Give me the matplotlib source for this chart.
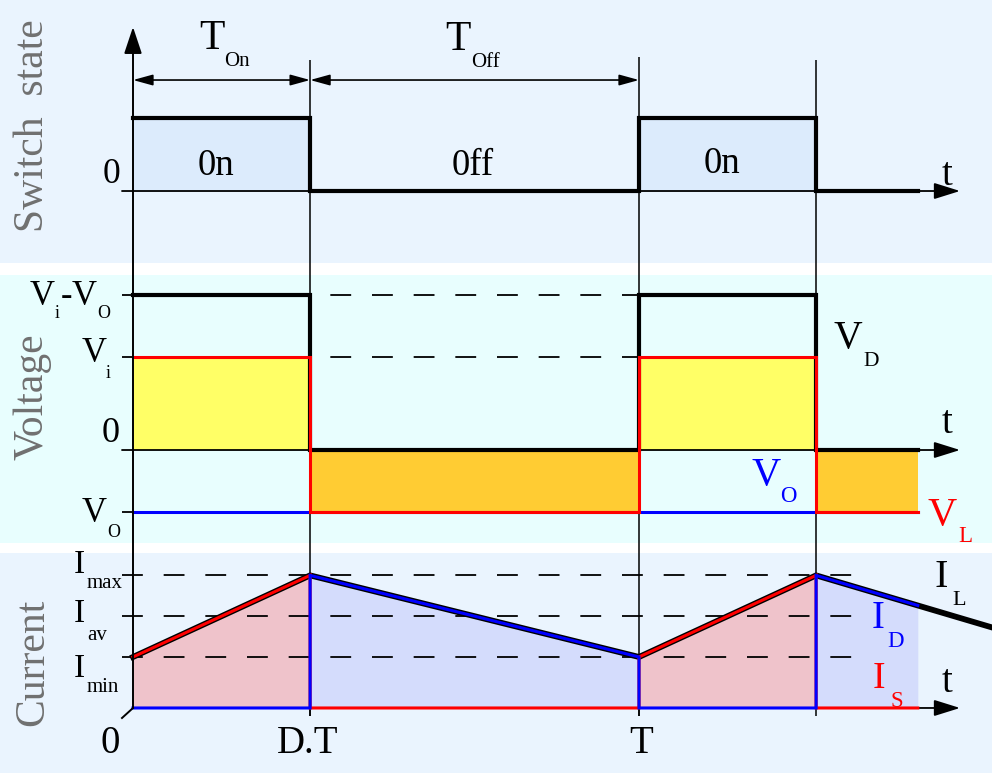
import matplotlib
matplotlib.use('Agg')
import matplotlib.pyplot as plt

plt.rcParams['font.family'] = ['Liberation Serif', 'DejaVu Serif']
plt.rcParams['lines.scale_dashes'] = False

W, H = 992, 773

# time, as a fraction of the period T
D = 0.35
t_end = 1.551    # where the shaded waveforms stop
t_tail = 1.694   # where the I_L line stops
on_spans = [(0, D), (1, 1 + D)]
off_spans = [(D, 1), (1 + D, t_end)]

# switch state
t_sw = [0, D, D, 1, 1, 1 + D, 1 + D, t_end]
sw = [1, 1, 0, 0, 1, 1, 0, 0]

# voltages
Vi = 1.5
Vo = -1.0
ViVo = Vi - Vo
v_d = [ViVo, ViVo, 0, 0, ViVo, ViVo, 0, 0]
v_l = [Vi, Vi, Vo, Vo, Vi, Vi, Vo, Vo]

# currents
Imin, Iav, Imax = 1.0, 1.8, 2.6
t_il = [0, D, 1, 1 + D, t_end, t_tail]
i_l = [1.0, 2.6, 1.0, 2.6, 2.01, 1.59]
i_s = [1.0, 2.6, 0, 0, 1.0, 2.6, 0, 0]
i_d = [0, 0, 2.6, 1.0, 0, 0, 2.6, 2.01]

x_lim = (-133 / 506, (W - 133) / 506)
t_tick = -11 / 506
t_arrow = (960 - 133) / 506

fig = plt.figure(figsize=(W / 100, H / 100), dpi=100, facecolor='white')

# background layer: panel colours and vertical guides (y in pixels)
bg = fig.add_axes([0, 0, 1, 1])
bg.set_xlim(*x_lim)
bg.set_ylim(H, 0)
bg.axis('off')
bg.axhspan(0, 263, color='#eaf4fe', lw=0)
bg.axhspan(275, 543, color='#e8fefe', lw=0)
bg.axhspan(553, H, color='#eaf4fe', lw=0)
bg.vlines([D, 1, 1 + D], [60, 57, 60], 716, color='black', lw=1.1)


def panel(bottom_px, top_px, ylim):
    ax = fig.add_axes([0, 1 - bottom_px / H, 1, (bottom_px - top_px) / H])
    ax.set_xlim(*x_lim)
    ax.set_ylim(*ylim)
    ax.axis('off')
    ax.patch.set_visible(False)
    return ax


def arrow(ax, x0, y0, x1, y1, style, lw=1.3):
    ax.annotate('', xy=(x1, y1), xytext=(x0, y0),
                arrowprops=dict(arrowstyle=style, color='black', lw=lw,
                                mutation_scale=10, shrinkA=0, shrinkB=0))


t_axis = '-|>,head_length=1.6,head_width=0.5'

# switch state panel
ax1 = panel(263, 0, (-0.986, 2.616))
for a, b in on_spans:
    ax1.fill_between([a, b], 0, 1, color='#dcebfc', lw=0, zorder=1)
arrow(ax1, t_tick, 0, t_arrow, 0, t_axis)
ax1.plot(t_sw, sw, color='black', lw=3, solid_joinstyle='miter', zorder=3)
dim = '<|-|>,head_length=1.2,head_width=0.33'
arrow(ax1, 0, 1.52, D, 1.52, dim, lw=1.2)
arrow(ax1, D, 1.52, 1, 1.52, dim, lw=1.2)

# voltage panel
ax2 = panel(543, 275, (-1.5, 2.823))
for lev in [ViVo, Vi]:
    ax2.plot([t_tick, 1], [lev, lev], color='black', lw=1.3, dashes=(15, 15), zorder=1)
ax2.hlines([Vo], t_tick, 0, color='black', lw=1.3)
for a, b in on_spans:
    ax2.fill_between([a, b], 0, Vi, color='#ffff66', lw=0, zorder=2)
for a, b in off_spans:
    ax2.fill_between([a, b], Vo, 0, color='#ffcc33', lw=0, zorder=2)
arrow(ax2, t_tick, 0, t_arrow, 0, t_axis)
ax2.plot([0, t_end], [Vo, Vo], color='blue', lw=2.2, zorder=3)
ax2.plot(t_sw, v_d, color='black', lw=3, solid_joinstyle='miter', zorder=4)
ax2.plot(t_sw, v_l, color='red', lw=2.2, solid_joinstyle='miter', zorder=5)

# current panel
ax3 = panel(H, 553, (-1.275, 3.039))
for k in (0, 2):
    ax3.fill_between(t_il[k:k + 2], 0, i_l[k:k + 2], color='#efc3cb', lw=0, zorder=1)
for k in (1, 3):
    ax3.fill_between(t_il[k:k + 2], 0, i_l[k:k + 2], color='#d4dcfc', lw=0, zorder=1)
for lev in [Imax, Iav, Imin]:
    ax3.plot([t_tick, (857 - 133) / 506], [lev, lev], color='black', lw=1.3,
             dashes=(15, 15), zorder=2)
arrow(ax3, 0, 0, t_arrow, 0, t_axis)
ax3.plot(t_il, i_l, color='black', lw=4.2, zorder=3)
ax3.plot(t_sw, i_s, color='red', lw=2.2, solid_joinstyle='miter', zorder=4)
ax3.plot(t_sw, i_d, color='blue', lw=2.2, solid_joinstyle='miter', zorder=5)
ax3.vlines([D, 1], -0.157, 0, color='black', lw=1.1)

# foreground: vertical axis with its arrow
fg = fig.add_axes([0, 0, 1, 1])
fg.set_xlim(*x_lim)
fg.set_ylim(H, 0)
fg.axis('off')
fg.patch.set_visible(False)
arrow(fg, 0, 708, 0, 27, '-|>,head_length=1.65,head_width=0.55', lw=1.4)
fg.plot([t_tick, 0], [718, 708], color='black', lw=1.4)


def put(x, y, s, size, color='black', ha='left'):
    fig.text(x / W, 1 - y / H, s, fontsize=size, color=color, ha=ha, va='baseline')


# switch panel text
put(199, 49, 'T', 30)
put(224, 66, 'On', 15)
put(445, 50, 'T', 30)
put(471, 67, 'Off', 15)
put(103, 183, '0', 25.5)
put(216, 175, '0n', 26.5, ha='center')
put(473, 175, '0ff', 26.5, ha='center')
put(722, 173, '0n', 26.5, ha='center')
put(942, 185, 't', 28)

# voltage panel text
put(30, 305, 'V', 25)
put(55, 318, 'i', 13)
put(61, 305, '-', 25)
put(72, 305, 'V', 25)
put(97, 318, 'O', 13)
put(82, 362, 'V', 25)
put(106, 378, 'i', 13)
put(102, 442, '0', 26)
put(82, 522, 'V', 25)
put(107, 537, 'O', 13)
put(833, 348, 'V', 28.5)
put(863, 366, 'D', 15.5)
put(752, 485, 'V', 29, 'blue')
put(780, 502, 'O', 16.5, 'blue')
put(928, 525, 'V', 29, 'red')
put(958, 542, 'L', 16.5, 'red')
put(942, 433, 't', 28)

# current panel text
put(74, 573, 'I', 24)
put(87, 588, 'max', 15)
put(74, 622, 'I', 24)
put(87, 640, 'av', 15)
put(74, 677, 'I', 24)
put(87, 692, 'min', 15)
put(101, 753, '0', 28)
put(308, 753, 'D.T', 28, ha='center')
put(641, 753, 'T', 28, ha='center')
put(873, 688, 'I', 27, 'red')
put(890, 707, 'S', 16.5, 'red')
put(872, 628, 'I', 28, 'blue')
put(887, 647, 'D', 16.5, 'blue')
put(935, 587, 'I', 29)
put(952, 605, 'L', 16)
put(942, 692, 't', 28)

# panel titles
for yc, s in [(126, 'Switch  state'), (397, 'Voltage'), (662, 'Current')]:
    fig.text(43 / W, 1 - yc / H, s, fontsize=30, color='#707070', rotation=90,
             rotation_mode='anchor', ha='center', va='baseline')

fig.savefig('out.png', dpi=100)
